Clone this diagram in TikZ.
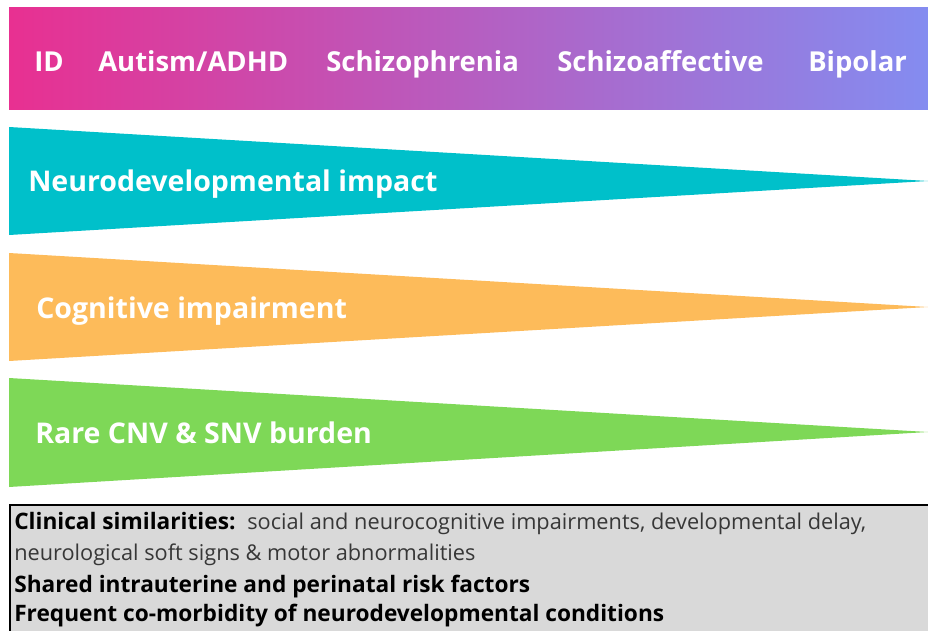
\documentclass[tikz,border=0pt]{standalone}
\usepackage{fontspec}
\setmainfont{Open Sans}
\usetikzlibrary{positioning}

\definecolor{bandpink}{RGB}{232,48,145}
\definecolor{bandviolet}{RGB}{198,98,220}
\definecolor{bandblue}{RGB}{132,140,240}
\definecolor{wedgeteal}{RGB}{0,192,202}
\definecolor{wedgeorange}{RGB}{253,187,90}
\definecolor{wedgegreen}{RGB}{126,216,87}
\definecolor{notegray}{RGB}{217,217,217}
\definecolor{notetext}{RGB}{55,55,55}

\begin{document}
\begin{tikzpicture}[x=0.75pt, y=-0.75pt,
    disorder/.style={anchor=base west, inner sep=0pt, text=white,
      font=\bfseries\fontsize{20.6}{24}\selectfont},
    wedgelabel/.style={anchor=base west, inner sep=0pt, text=white,
      font=\bfseries\fontsize{21.4}{25}\selectfont},
    noteline/.style={anchor=base west, inner sep=0pt,
      font=\fontsize{16.3}{19}\selectfont},
    notebold/.style={noteline, font=\bfseries\fontsize{17}{20}\selectfont}]
    \useasboundingbox (0,0) rectangle (928,631);

    % top band with the disorders
    \shade[left color=bandpink, middle color=bandviolet, right color=bandblue]
      (9,8) rectangle (928,110);
    \node[disorder] (id) at (34,72) {ID};
    \node[disorder] (autism) at (98,72) {Autism/ADHD};
    \node[disorder] (scz) at (326,72) {Schizophrenia};
    \node[disorder] (sza) at (557,72) {Schizoaffective};
    \node[disorder] (bip) at (808,72) {Bipolar};

    % wedges
    \fill[wedgeteal] (9,127) -- (928,181) -- (9,235) -- cycle;
    \node[wedgelabel] (neuro) at (28,191) {Neurodevelopmental impact};
    \fill[wedgeorange] (9,253) -- (928,307) -- (9,361) -- cycle;
    \node[wedgelabel] (cogn) at (36,318) {Cognitive impairment};
    \fill[wedgegreen] (9,378) -- (928,432) -- (9,487) -- cycle;
    \node[wedgelabel] (cnv) at (35,443) {Rare CNV \& SNV burden};

    % shared features
    \draw[line width=1.5pt, fill=notegray] (10,505) rectangle (940,650);
    \node[notebold] (clin) at (14,529) {Clinical similarities:};
    \node[noteline, text=notetext] (clintext) at (247,529)
      {social and neurocognitive impairments, developmental delay,};
    \node[noteline, text=notetext] (soft) at (14,560)
      {neurological soft signs \& motor abnormalities};
    \node[notebold] (risk) at (14,592) {Shared intrauterine and perinatal risk factors};
    \node[notebold] (comorb) at (14,621) {Frequent co-morbidity of neurodevelopmental conditions};
\end{tikzpicture}
\end{document}
